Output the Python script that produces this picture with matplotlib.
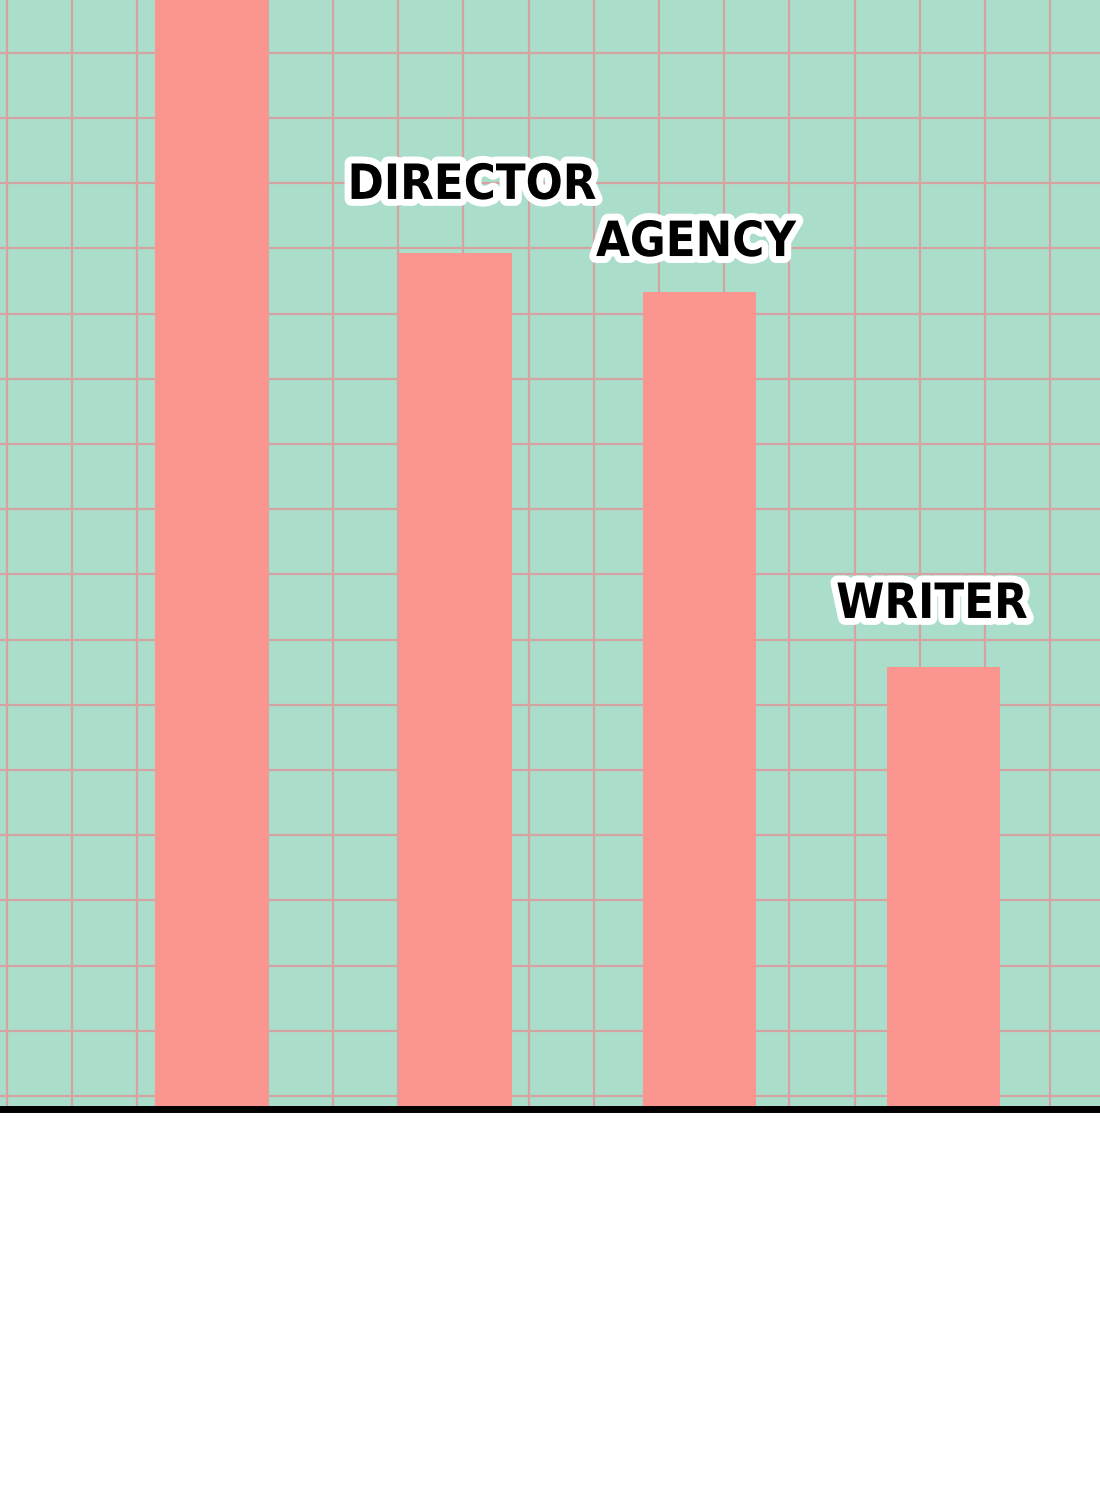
import numpy as np
import matplotlib.pyplot as plt
import matplotlib.patheffects as pe

# bar heights in grid-cell units (first bar runs off the top)
categories = ["", "DIRECTOR", "AGENCY", "WRITER"]
values = [18.5, 13.13, 12.53, 6.78]

# label nudges in pixels (dx, dy) above each bar top
label_offsets = [(0, 60), (17, 68), (-3, 50), (-11, 63)]

mint = "#AADECB"
salmon = "#FA968F"
gridcol = "#D6A3A3"

fig = plt.figure(figsize=(11, 15), dpi=100)
ax = fig.add_axes([0, 1 - 1109 / 1500, 1, 1109 / 1500])
ax.set_facecolor(mint)

x = np.arange(len(categories))
step = 244.0   # px between bars
cell = 65.2    # px per grid cell

# squared paper background
ax.set_xticks(np.arange((7 - 211) / step, 4, cell / step))
ax.set_yticks(np.arange(0.2, 17, 1.0))
ax.grid(True, color=gridcol, lw=1.6)
ax.set_axisbelow(True)
ax.tick_params(length=0, labelbottom=False, labelleft=False)

ax.bar(x, values, width=113 / step, color=salmon, zorder=2)

ax.set_xlim(-211 / step, (1100 - 211) / step)
ax.set_ylim(0, 1109 / cell)

for i, (lab, v) in enumerate(zip(categories, values)):
    if not lab:
        continue
    dx, dy = label_offsets[i]
    ax.annotate(lab, xy=(x[i], v), xytext=(dx, dy), textcoords="offset pixels",
                ha="center", va="center", fontsize=35, fontweight="heavy",
                fontstretch="condensed", family="DejaVu Sans", color="black",
                path_effects=[pe.withStroke(linewidth=10, foreground="white")],
                zorder=5)

for s in ["top", "left", "right"]:
    ax.spines[s].set_visible(False)
ax.spines["bottom"].set_color("black")
ax.spines["bottom"].set_linewidth(5)

fig.savefig("out.png", dpi=100, facecolor="white")
